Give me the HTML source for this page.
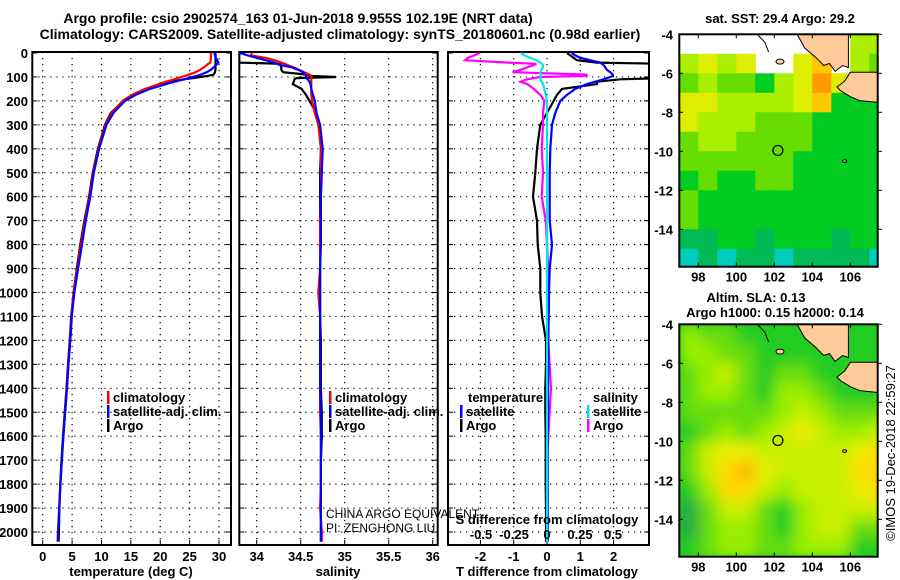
<!DOCTYPE html>
<html><head><meta charset="utf-8"><style>
html,body{margin:0;padding:0;background:#fff;}
svg{display:block;font-family:"Liberation Sans",sans-serif;}
.b{font-weight:bold;}
</style></head><body>
<svg id="chart" width="900" height="580" viewBox="0 0 900 580">
<defs>
<clipPath id="c1"><rect x="32.3" y="52" width="198.7" height="493"/></clipPath>
<clipPath id="c2"><rect x="239.3" y="52" width="198.4" height="493"/></clipPath>
<clipPath id="c3"><rect x="448" y="52" width="201" height="493"/></clipPath>
<clipPath id="cm1"><rect x="679.3" y="34.3" width="198.4" height="232.4"/></clipPath>
<clipPath id="cm2"><rect x="679.3" y="324.3" width="198.4" height="232.4"/></clipPath>
<filter id="blur" x="-10%" y="-10%" width="120%" height="120%"><feGaussianBlur stdDeviation="7"/></filter>
</defs>
<text class="b" x="298" y="23" font-size="14" text-anchor="middle">Argo profile: csio 2902574_163 01-Jun-2018 9.955S 102.19E (NRT data)</text>
<text class="b" x="340" y="39" font-size="14" text-anchor="middle">Climatology: CARS2009. Satellite-adjusted climatology: synTS_20180601.nc (0.98d earlier)</text>
<g id="layer"></g>
</svg>
<script>
// ---- data ----
const depths = [0,10,20,30,40,45,50,60,70,80,90,95,100,105,110,120,130,150,175,200,250,300,400,500,600,700,800,900,1000,1100,1200,1300,1400,1500,1600,1700,1800,1900,2000,2040];
const tempArgo = [29.4,29.4,29.4,29.4,29.4,29.4,29.4,29.4,29.4,29.3,29.1,28.2,26.8,25.5,24.0,22.0,20.4,17.7,15.3,13.7,11.6,10.6,9.4,8.5,7.9,7.1,6.4,5.8,5.25,4.85,4.6,4.3,4.05,3.75,3.45,3.2,3.0,2.85,2.75,2.7];
const tempClim = [28.6,28.6,28.6,28.6,28.5,28.2,27.9,27.4,26.8,26.0,24.9,24.3,23.6,23.0,22.4,21.0,19.8,17.4,15.2,13.6,11.8,10.7,9.5,8.6,8.0,7.2,6.5,5.9,5.3,4.9,4.65,4.35,4.1,3.8,3.5,3.25,3.0,2.8,2.6,2.55];
const tempSatDiff = [0.6,0.7,0.85,1.1,1.4,1.5,1.6,1.7,1.8,1.9,1.98,1.98,1.9,1.8,1.7,1.45,1.2,0.85,0.6,0.4,0.25,0.15,0.1,0.1,0.1,0.12,0.18,0.12,0.1,0.06,0.05,0.04,0.03,0.03,0.03,0.02,0.02,0.02,0.02,0.02];
const salArgo = [33.8,33.8,33.8,33.8,33.8,34.27,34.27,34.28,34.28,34.3,34.57,34.6,34.9,34.45,34.43,34.42,34.41,34.51,34.56,34.6,34.68,34.71,34.73,34.72,34.72,34.72,34.72,34.72,34.72,34.72,34.73,34.73,34.73,34.74,34.74,34.73,34.73,34.73,34.73,34.73];
const salClim = [33.94,33.94,34.1,34.2,34.28,34.32,34.35,34.42,34.48,34.54,34.6,34.62,34.62,34.62,34.62,34.62,34.62,34.62,34.62,34.63,34.66,34.7,34.73,34.73,34.73,34.72,34.72,34.72,34.7,34.72,34.72,34.72,34.72,34.72,34.73,34.73,34.73,34.72,34.74,34.74];
const salSat = [33.81,33.9,34.0,34.1,34.2,34.23,34.27,34.4,34.47,34.53,34.55,34.56,34.56,34.56,34.58,34.6,34.61,34.62,34.64,34.66,34.68,34.72,34.75,34.74,34.73,34.73,34.73,34.72,34.72,34.72,34.72,34.72,34.72,34.73,34.73,34.73,34.73,34.73,34.73,34.73];
const tDiffArgo = [0.6,0.7,0.8,0.9,1.5,3.5,3.5,3.5,3.5,3.5,3.5,3.5,3.5,3.5,2.2,1.5,1.5,0.45,0.3,0.2,0.0,-0.2,-0.3,-0.35,-0.42,-0.3,-0.28,-0.2,-0.2,-0.15,-0.03,-0.03,-0.05,-0.05,-0.04,-0.04,-0.04,-0.03,-0.03,-0.03];
const tDiffSat = [0.74,0.85,1.0,1.3,1.6,1.65,1.7,1.75,1.8,1.9,1.98,1.98,1.9,1.8,1.7,1.45,1.2,0.85,0.6,0.4,0.25,0.15,0.1,0.08,0.08,0.08,0.15,0.08,0.06,0.05,0.04,0.04,0.03,0.03,0.02,0.02,0.02,0.02,0.02,0.02];
const sDiffArgo = [-0.51,-0.55,-0.6,-0.62,-0.3,-0.08,-0.1,-0.15,-0.2,-0.26,0.3,0.3,-0.05,-0.1,-0.15,-0.2,-0.15,-0.1,-0.05,-0.02,-0.03,-0.03,-0.04,-0.03,-0.04,-0.01,0.0,0.01,0.0,0.01,0.01,0.02,0.03,0.02,0.01,0.0,0.0,0.0,0.0,0.0];
const sDiffSat = [-0.2,-0.17,-0.13,-0.08,-0.05,-0.04,-0.03,-0.03,-0.04,-0.05,-0.05,-0.05,-0.05,-0.05,-0.05,-0.04,-0.03,-0.02,-0.01,0,0,0,0,0,0,0,0,0,0,0,0,0,0,0,0,0,0,0,0,0];
const depthTicks = [0,100,200,300,400,500,600,700,800,900,1000,1100,1200,1300,1400,1500,1600,1700,1800,1900,2000];
const tempTicks = [0,5,10,15,20,25,30];
const salTicks = [34,34.5,35,35.5,36];
const salTickLabels = ["34","34.5","35","35.5","36"];
const tDiffTicks = [-2,-1,0,1,2];
const sDiffTicks = [-0.5,-0.25,0,0.25,0.5];
const sDiffTickLabels = ["-0.5","-0.25","0","0.25","0.5"];
const mapLons = [98,100,102,104,106];
const mapLats = [-4,-6,-8,-10,-12,-14];
// SST map, 1-degree cells, rows lat -4..-16, cols lon 97..107 (-1 no data)
const sstGrid = [
[-1,-1,-1,-1,-1,-1,-1,-1,-1,4,4],
[4,5,4,5,-1,-1,5,6,-1,4,3],
[3,4,3,3,2,4,5,7,5,3,3],
[5,5,4,4,4,4,5,6,2,2,2],
[5,4,4,4,3,3,3,2,2,2,2],
[3,4,4,3,3,3,3,2,2,2,2],
[3,3,3,3,3,3,2,2,2,2,2],
[2,3,2,2,3,3,2,2,2,2,2],
[3,2,2,2,2,2,2,2,2,2,2],
[3,2,2,2,2,2,2,2,2,2,2],
[1,1,2,2,1,2,2,2,1,2,2],
[0,1,0,1,1,0,1,1,1,1,0]];
const slaGrid = [
[4,3,3,2,2,2,2,2,2,2,2],
[4,4,3,3,2,2,2,2,2,2,2],
[3,4,5,3,2,3,3,2,2,2,2],
[3,4,4,3,2,4,4,3,2,2,2],
[3,3,3,3,3,4,5,4,3,3,3],
[2,3,4,3,4,5,6,5,4,4,5],
[3,5,6,6,5,5,5,5,5,6,7],
[3,5,7,8,6,5,5,5,5,7,7],
[2,4,7,7,5,4,5,5,5,6,7],
[1,3,5,5,3,2,4,5,5,5,5],
[1,3,4,4,3,2,4,5,5,3,3],
[2,3,4,4,3,3,4,4,4,2,2]];
const sstColors = ["#00ccbb","#00bb55","#00cc22","#66dd00","#aaee00","#ddee00","#ffc800","#ff9a00"];
const slaColors = ["#00bb55","#22aa44","#22cc22","#66dd11","#99ee00","#c8ef00","#e8ee00","#ffd800","#ffb800"];

// ---- scales ----
const yD = d => 53 + d*0.2395;
const xT = t => 42.7 + t*5.877;
const xS = s => 256.7 + (s-34)*88;
const xTd = t => 547 + t*33.3;
const xSd = s => 547 + s*132;
const lonX = l => 679.3 + (l-97)*19;
const latY = (la, top) => top + (-4-la)*19.5;

const NS = "http://www.w3.org/2000/svg";
const layer = document.getElementById('layer');
function mk(tag, attrs, parent, txt){
  const e = document.createElementNS(NS, tag);
  for (const k in attrs) e.setAttribute(k, attrs[k]);
  if (txt !== undefined) e.textContent = txt;
  (parent||layer).appendChild(e);
  return e;
}
function line(x1,y1,x2,y2,st,p){return mk('line',Object.assign({x1,y1,x2,y2},st),p);}
const dot = {stroke:'#000','stroke-width':1.2,'stroke-dasharray':'1.2,4.8'};

function panel(name, x0, x1, xs, xticks, xlabels, showY){
  const g = mk('g',{});
  
  
  depthTicks.forEach(d=>{
    const y=yD(d);
    if (d>0) line(x0,y,x1,y,dot,g);
    line(x0,y,x0+5,y,{stroke:'#000','stroke-width':1},g);
    line(x1-5,y,x1,y,{stroke:'#000','stroke-width':1},g);
    if (showY){
      const t=mk('text',{x:28,y:y+5,'font-size':13,'font-weight':'bold','text-anchor':'end'},g,String(d));
      
      
    }
  });
  xticks.forEach((v,i)=>{
    const x=xs(v);
    line(x,52,x,545,dot,g);
    line(x,545,x,540,{stroke:'#000','stroke-width':1},g);
    if (xlabels){
      const t=mk('text',{x:x,y:561,'font-size':13,'font-weight':'bold','text-anchor':'middle'},g,xlabels[i]);
      
      
    }
  });
  const r=mk('rect',{x:x0,y:52,width:x1-x0,height:493,fill:'none',stroke:'#000','stroke-width':2},g);
  
  
  return g;
}
panel('temperature-panel',32.3,231,xT,tempTicks,tempTicks.map(String),true);
panel('salinity-panel',239.3,437.7,xS,salTicks,salTickLabels,false);
panel('difference-panel',448,649,xTd,tDiffTicks,tDiffTicks.map(String),false);

function profile(vals, xs, color, clip, name){
  const pts = vals.map((v,i)=>xs(v).toFixed(1)+','+yD(depths[i]).toFixed(1)).join(' ');
  const p = mk('polyline',{points:pts,fill:'none',stroke:color,'stroke-width':2.2,'stroke-linejoin':'miter','clip-path':'url(#'+clip+')'});
  
  
}
const tempSat = tempClim.map((v,i)=>v+tempSatDiff[i]);
profile(tempArgo,xT,'#000','c1','temperature-argo-line');
profile(tempClim,xT,'#ff0000','c1','temperature-climatology-line');
profile(tempSat,xT,'#0000ff','c1','temperature-satellite-line');
profile(salArgo,xS,'#000','c2','salinity-argo-line');
profile(salClim,xS,'#ff0000','c2','salinity-climatology-line');
profile(salSat,xS,'#0000ff','c2','salinity-satellite-line');
profile(tDiffArgo,xTd,'#000','c3','t-diff-argo-line');
profile(sDiffArgo,xSd,'#ff00ff','c3','s-diff-argo-line');
profile(tDiffSat,xTd,'#0000ff','c3','t-diff-satellite-line');
profile(sDiffSat,xSd,'#00e5ee','c3','s-diff-satellite-line');

// S diff tick labels inside panel
sDiffTicks.forEach((v,i)=>{
  const t=mk('text',{x:xSd(v),y:539,'font-size':13,'font-weight':'bold','text-anchor':'middle'},layer,sDiffTickLabels[i]);
  
  
});

function txt(x,y,s,name,opts){
  const t=mk('text',Object.assign({x,y,'font-size':13,'font-weight':'bold'},opts||{}),layer,s);
  
  
  return t;
}
txt(547,524,'S difference from climatology','s-diff-axis-title',{'text-anchor':'middle'});
txt(131,576,'temperature (deg C)','temperature-axis-title',{'text-anchor':'middle'});
txt(338,576,'salinity','salinity-axis-title',{'text-anchor':'middle'});
txt(547,576,'T difference from climatology','t-diff-axis-title',{'text-anchor':'middle'});
txt(326,518,'CHINA ARGO EQUIVALENT','pi-agency-note',{'font-weight':'normal','font-size':12});
txt(326,532,'PI: ZENGHONG LIU','pi-name-note',{'font-weight':'normal','font-size':12});

function legend(x,y,color,label,name){
  const r=mk('rect',{x:x,y:y-11,width:2.5,height:13,fill:color});
  
  
  txt(x+6,y,label,name);
}
legend(107,402,'#ff0000','climatology','legend-temp-climatology');
legend(107,416,'#0000ff','satellite-adj. clim.','legend-temp-satellite');
legend(107,430,'#000','Argo','legend-temp-argo');
legend(329,402,'#ff0000','climatology','legend-sal-climatology');
legend(329,416,'#0000ff','satellite-adj. clim.','legend-sal-satellite');
legend(329,430,'#000','Argo','legend-sal-argo');
txt(468,402,'temperature','legend-temperature-header');
legend(460,416,'#0000ff','satellite','legend-tdiff-satellite');
legend(460,430,'#000','Argo','legend-tdiff-argo');
txt(593,402,'salinity','legend-salinity-header');
legend(587,416,'#00e5ee','satellite','legend-sdiff-satellite');
legend(587,430,'#ff00ff','Argo','legend-sdiff-argo');

// ---- maps ----
function map(top, grid, colors, clip, name, smooth){
  const g=mk('g',{'clip-path':'url(#'+clip+')'});
  
  
  mk('rect',{x:679.3,y:top,width:198.4,height:232.4,fill:smooth?colors[2]:'#fff'},g);
  const cg=mk('g',smooth?{filter:'url(#blur)'}:{},g);
  grid.forEach((row,r)=>row.forEach((v,c)=>{
    if (v<0) return;
    const cell=mk('rect',{x:lonX(97+c),y:latY(-4-r,top),width:19.6,height:20.1,fill:colors[v]},cg);
    
    
  }));
  const P=(pts)=>pts.map(p=>lonX(p[0]).toFixed(1)+','+latY(p[1],top).toFixed(1)).join(' ');
  const s=mk('polygon',{points:P([[103.2,-4],[105.9,-4],[105.9,-5.7],[105.6,-5.6],[105.2,-5.9],[104.9,-5.5],[104.6,-5.6],[104.2,-5.2],[103.6,-4.7]]),fill:'#ffcc99',stroke:'#000','stroke-width':1},g);
  
  
  const j=mk('polygon',{points:P([[106,-5.95],[107.5,-5.95],[107.5,-7.5],[106.5,-7.4],[106,-7.2],[105.5,-6.9],[105.3,-6.7],[105.7,-6.4],[105.9,-6.1]]),fill:'#ffcc99',stroke:'#000','stroke-width':1},g);
  
  
  mk('polyline',{points:P([[101.1,-4.0],[101.5,-4.4],[101.7,-4.9]]),fill:'none',stroke:'#000','stroke-width':1},g);
  mk('ellipse',{cx:lonX(102.3),cy:latY(-5.4,top),rx:4,ry:2.5,fill:'#ffcc99',stroke:'#000','stroke-width':1},g);
  mk('ellipse',{cx:lonX(105.7),cy:latY(-10.5,top),rx:2,ry:1.3,fill:'#ffcc99',stroke:'#000','stroke-width':1},g);
  const c=mk('circle',{cx:lonX(102.19),cy:latY(-9.955,top),r:5,fill:'none',stroke:'#000','stroke-width':1.2},g);
  
  
  const f=mk('rect',{x:679.3,y:top,width:198.4,height:232.4,fill:'none',stroke:'#000','stroke-width':2});
  
  
  mapLons.forEach(l=>{
    line(lonX(l),top,lonX(l),top+4,{stroke:'#000'});
    line(lonX(l),top+232.4,lonX(l),top+228,{stroke:'#000'});
    txt(lonX(l),top+247,String(l),'map-lon-label',{'text-anchor':'middle'});
  });
  mapLats.forEach(la=>{
    line(679.3,latY(la,top),683,latY(la,top),{stroke:'#000'});
    line(877.7,latY(la,top),882,latY(la,top),{stroke:'#000'});
    txt(673,latY(la,top)+5,String(la),'map-lat-label',{'text-anchor':'end'});
  });
}
map(34.3,sstGrid,sstColors,'cm1','sst-map',false);
map(324.3,slaGrid,slaColors,'cm2','sla-map',true);
txt(780,23,'sat. SST: 29.4 Argo: 29.2','sst-map-title',{'text-anchor':'middle'});
txt(756,302,'Altim. SLA: 0.13','sla-map-title',{'text-anchor':'middle'});
txt(775,317,'Argo h1000: 0.15 h2000: 0.14','sla-map-subtitle',{'text-anchor':'middle'});
txt(0,0,'\u00A9IMOS 19-Dec-2018 22:59:27','imos-timestamp',{'text-anchor':'middle','font-weight':'normal','transform':'translate(895,453) rotate(-90)'});
</script>
</body></html>
